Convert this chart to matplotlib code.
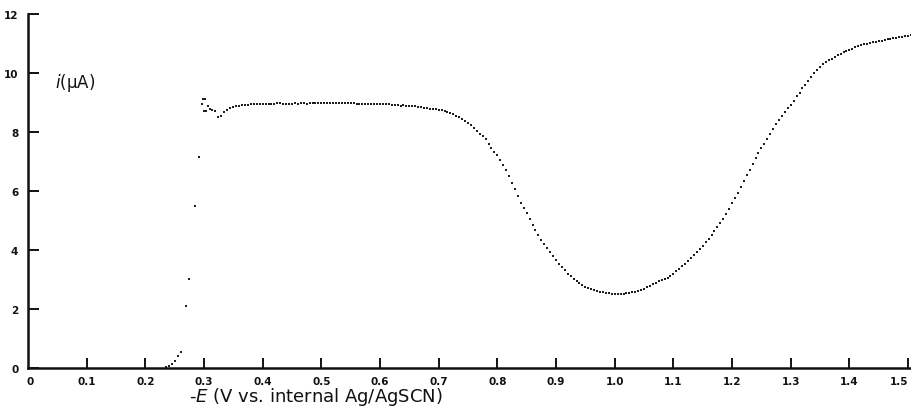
import matplotlib
matplotlib.use("Agg")
import matplotlib.pyplot as plt

# ---- data ----
E_rise = [0.235, 0.240, 0.245, 0.250, 0.255, 0.260, 0.270, 0.275, 0.285, 0.292]
I_rise = [0.03, 0.07, 0.14, 0.25, 0.40, 0.55, 2.10, 3.00, 5.50, 7.15]

E_wiggle = [0.296, 0.298, 0.302, 0.300, 0.306, 0.304, 0.310, 0.314, 0.318, 0.324,
            0.329, 0.334, 0.339, 0.344, 0.349, 0.354, 0.359, 0.364]
I_wiggle = [8.95, 9.10, 9.12, 8.72, 8.88, 8.70, 8.78, 8.74, 8.70, 8.50,
            8.55, 8.66, 8.74, 8.80, 8.84, 8.87, 8.89, 8.90]

E_plateau = [0.370, 0.375, 0.380, 0.385, 0.390, 0.395, 0.400, 0.405, 0.410, 0.415,
             0.420, 0.425, 0.430, 0.435, 0.440, 0.445, 0.450, 0.455, 0.460, 0.465,
             0.470, 0.475, 0.480, 0.485, 0.490, 0.495, 0.500, 0.505, 0.510, 0.515,
             0.520, 0.525, 0.530, 0.535, 0.540, 0.545, 0.550, 0.555, 0.560, 0.565,
             0.570, 0.575, 0.580, 0.585, 0.590, 0.595, 0.600, 0.605, 0.610, 0.615,
             0.620, 0.625, 0.630, 0.635, 0.640, 0.645, 0.650, 0.655, 0.660, 0.665,
             0.670, 0.675, 0.680, 0.685, 0.690, 0.695, 0.700, 0.705, 0.710, 0.715]
I_plateau = [8.91, 8.92, 8.93, 8.93, 8.93, 8.94, 8.94, 8.94, 8.95, 8.94,
             8.95, 8.96, 8.97, 8.95, 8.95, 8.95, 8.95, 8.96, 8.95, 8.96,
             8.96, 8.95, 8.96, 8.97, 8.96, 8.97, 8.97, 8.96, 8.97, 8.96,
             8.97, 8.96, 8.96, 8.97, 8.96, 8.96, 8.96, 8.96, 8.95, 8.95,
             8.95, 8.95, 8.95, 8.94, 8.94, 8.94, 8.94, 8.93, 8.93, 8.94,
             8.92, 8.91, 8.90, 8.89, 8.90, 8.88, 8.87, 8.87, 8.86, 8.84,
             8.83, 8.81, 8.80, 8.78, 8.77, 8.76, 8.74, 8.73, 8.71, 8.68]

E_fall = [0.720, 0.725, 0.730, 0.735, 0.740, 0.745, 0.750, 0.755, 0.760, 0.765,
          0.770, 0.775, 0.780, 0.785, 0.790, 0.795, 0.800, 0.805, 0.810, 0.815,
          0.820, 0.825, 0.830, 0.835, 0.840, 0.845, 0.850, 0.855, 0.860, 0.865,
          0.870, 0.875, 0.880, 0.885, 0.890, 0.895, 0.900, 0.905, 0.910, 0.915,
          0.920, 0.925, 0.930, 0.935, 0.940, 0.945, 0.950, 0.955, 0.960, 0.965,
          0.970, 0.975, 0.980, 0.985, 0.990, 0.995]
I_fall = [8.65, 8.60, 8.55, 8.49, 8.42, 8.37, 8.31, 8.22, 8.12, 8.03,
          7.93, 7.85, 7.76, 7.60, 7.45, 7.33, 7.20, 7.05, 6.88, 6.70,
          6.50, 6.28, 6.05, 5.82, 5.60, 5.42, 5.25, 5.05, 4.85, 4.67,
          4.50, 4.35, 4.20, 4.06, 3.92, 3.78, 3.65, 3.53, 3.42, 3.31,
          3.20, 3.11, 3.02, 2.94, 2.87, 2.81, 2.76, 2.71, 2.66, 2.63,
          2.60, 2.58, 2.56, 2.54, 2.53, 2.52]

E_climb = [1.000, 1.005, 1.010, 1.015, 1.020, 1.025, 1.030, 1.035, 1.040, 1.045,
           1.050, 1.055, 1.060, 1.065, 1.070, 1.075, 1.080, 1.085, 1.090, 1.095,
           1.100, 1.105, 1.110, 1.115, 1.120, 1.125, 1.130, 1.135, 1.140, 1.145,
           1.150, 1.155, 1.160, 1.165, 1.170, 1.175, 1.180, 1.185, 1.190, 1.195,
           1.200, 1.205, 1.210, 1.215, 1.220, 1.225, 1.230, 1.235, 1.240, 1.245,
           1.250, 1.255, 1.260, 1.265, 1.270, 1.275, 1.280, 1.285, 1.290, 1.295]
I_climb = [2.51, 2.51, 2.51, 2.52, 2.53, 2.55, 2.57, 2.59, 2.62, 2.65,
           2.69, 2.73, 2.78, 2.83, 2.88, 2.93, 2.98, 3.02, 3.05, 3.10,
           3.18, 3.27, 3.36, 3.44, 3.53, 3.62, 3.72, 3.82, 3.93, 4.03,
           4.14, 4.26, 4.38, 4.51, 4.65, 4.78, 4.92, 5.05, 5.20, 5.40,
           5.60, 5.76, 5.92, 6.12, 6.32, 6.52, 6.72, 6.92, 7.12, 7.28,
           7.45, 7.60, 7.76, 7.93, 8.10, 8.25, 8.40, 8.54, 8.67, 8.80]

E_top = [1.300, 1.305, 1.310, 1.315, 1.320, 1.325, 1.330, 1.335, 1.340, 1.345,
         1.350, 1.355, 1.360, 1.365, 1.370, 1.375, 1.380, 1.385, 1.390, 1.395,
         1.400, 1.405, 1.410, 1.415, 1.420, 1.425, 1.430, 1.435, 1.440, 1.445,
         1.450, 1.455, 1.460, 1.465, 1.470, 1.475, 1.480, 1.485, 1.490, 1.495,
         1.500, 1.505]
I_top = [8.92, 9.06, 9.20, 9.33, 9.47, 9.60, 9.73, 9.86, 9.98, 10.09,
         10.20, 10.28, 10.35, 10.42, 10.48, 10.54, 10.60, 10.65, 10.70, 10.74,
         10.78, 10.82, 10.86, 10.90, 10.93, 10.96, 10.98, 11.01, 11.03, 11.05,
         11.07, 11.09, 11.11, 11.13, 11.15, 11.17, 11.19, 11.21, 11.22, 11.24,
         11.26, 11.28]

x_ticks = [0.1, 0.2, 0.3, 0.4, 0.5, 0.6, 0.7, 0.8, 0.9, 1.0, 1.1, 1.2, 1.3, 1.4, 1.5]
x_ticklabels = ["0.1", "0.2", "0.3", "0.4", "0.5", "0.6", "0.7", "0.8", "0.9",
                "1.0", "1.1", "1.2", "1.3", "1.4", "1.5"]
y_ticks = [0, 2, 4, 6, 8, 10, 12]
y_ticklabels = ["0", "2", "4", "6", "8", "10", "12"]
x_label = r"-$E$ (V vs. internal Ag/AgSCN)"
y_label = r"$i$(µA)"

# ---- figure ----
W, H = 911, 410
fig = plt.figure(figsize=(W / 100, H / 100), dpi=100)
ax = fig.add_axes([28 / W, (H - 369) / H, 1 - 28 / W, (369 - 14.7) / H])

dot = dict(linestyle="none", marker="s", markersize=1.9, color="#1e1e1e",
           markeredgewidth=0)
for ex, iy in [(E_rise, I_rise), (E_wiggle, I_wiggle), (E_plateau, I_plateau),
               (E_fall, I_fall), (E_climb, I_climb), (E_top, I_top)]:
    ax.plot(ex, iy, **dot, clip_on=False)

ax.set_xlim(0, (W - 28) / 586.7)
ax.set_ylim(0, 12)
for s in ("top", "right"):
    ax.spines[s].set_visible(False)
for s in ("left", "bottom"):
    ax.spines[s].set_linewidth(1.8)
    ax.spines[s].set_color("#111111")

ax.set_xticks(x_ticks)
ax.set_xticklabels(x_ticklabels)
ax.set_yticks(y_ticks)
ax.set_yticklabels(y_ticklabels)
ax.tick_params(axis="x", direction="in", length=7, width=1.4, pad=5.5,
               labelsize=7.5, colors="#111111")
ax.tick_params(axis="y", direction="in", length=8, width=1.4, pad=7,
               labelsize=7.5, colors="#111111")
for lab in ax.get_xticklabels() + ax.get_yticklabels():
    lab.set_fontweight("bold")
# keep the last label inside the picture
ax.get_xticklabels()[-1].set_horizontalalignment("right")

# the "0" under the origin
fig.text(30 / W, (H - 382) / H, "0", ha="center", va="center",
         fontsize=7.5, fontweight="bold", color="#111111")

fig.text(316 / W, 1.5 / H, x_label, ha="center", va="bottom",
         fontsize=13, color="#111111")
fig.text(55 / W, (H - 83) / H, y_label, ha="left", va="center",
         fontsize=12, color="#111111")

fig.savefig("out.png", dpi=100)
